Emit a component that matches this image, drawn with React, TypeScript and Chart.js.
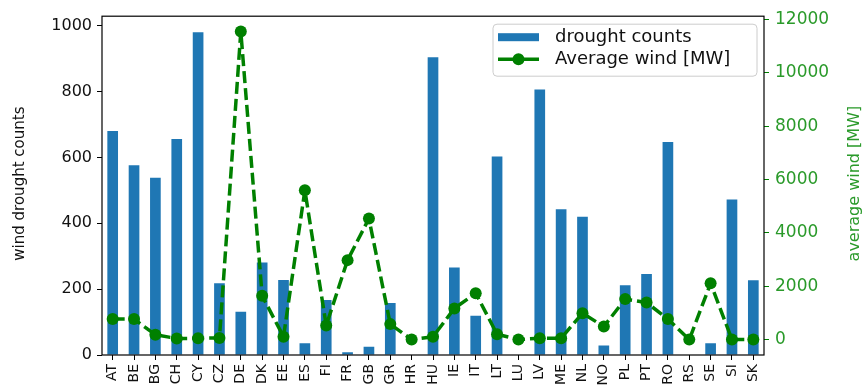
import React, { useEffect, useRef } from "react";
import { Chart, registerables } from "chart.js";

Chart.register(...registerables);

const countries = [
  "AT", "BE", "BG", "CH", "CY", "CZ", "DE", "DK", "EE", "ES", "FI", "FR", "GB", "GR", "HR", "HU",
  "IE", "IT", "LT", "LU", "LV", "ME", "NL", "NO", "PL", "PT", "RO", "RS", "SE", "SI", "SK",
];

const droughtCounts = [
  680, 576, 538, 656, 980, 218, 131, 281, 228, 36, 167, 8, 25, 158, 0, 904,
  266, 119, 603, 0, 806, 443, 420, 29, 212, 246, 647, 0, 36, 472, 227,
];

const averageWind = [
  770, 770, 180, 40, 50, 60, 11550, 1640, 110, 5600, 530, 2980, 4540, 580, 0, 110,
  1170, 1740, 200, 0, 50, 50, 990, 490, 1520, 1390, 770, 0, 2110, 0, 0,
];

const countTicks = [0, 200, 400, 600, 800, 1000];
const windTicks = [0, 2000, 4000, 6000, 8000, 10000, 12000];

const leftTitle = "wind drought counts";
const rightTitle = "average wind [MW]";

const FONT = '"DejaVu Sans", sans-serif';
const BAR_COLOR = "#1f77b4";
const LINE_COLOR = "#008000";
const RIGHT_TEXT = "#2a9a2a";

export default function App() {
  const ref = useRef<HTMLCanvasElement>(null);

  useEffect(() => {
    document.body.style.margin = "0";
    const canvas = ref.current;
    if (!canvas) return;

    const framePlugin = {
      id: "frame",
      afterDatasetsDraw(chart: any) {
        const { ctx, chartArea: a } = chart;
        ctx.save();
        ctx.strokeStyle = "#000";
        ctx.lineWidth = 1.2;
        ctx.strokeRect(a.left, a.top, a.right - a.left, a.bottom - a.top);
        ctx.restore();
      },
    };

    const titlesPlugin = {
      id: "axisTitles",
      afterDraw(chart: any) {
        const { ctx, chartArea: a } = chart;
        const cy = (a.top + a.bottom) / 2 - 2;
        ctx.save();
        ctx.textAlign = "center";
        ctx.textBaseline = "middle";
        ctx.font = `15px ${FONT}`;
        ctx.fillStyle = "#111";
        ctx.translate(20, cy);
        ctx.rotate(-Math.PI / 2);
        ctx.fillText(leftTitle, 0, 0);
        ctx.restore();

        ctx.save();
        ctx.textAlign = "center";
        ctx.textBaseline = "middle";
        ctx.font = `16px ${FONT}`;
        ctx.fillStyle = RIGHT_TEXT;
        ctx.translate(855, cy);
        ctx.rotate(-Math.PI / 2);
        ctx.fillText(rightTitle, 0, 0);
        ctx.restore();
      },
    };

    const legendPlugin = {
      id: "boxLegend",
      afterDraw(chart: any) {
        const { ctx, chartArea: a } = chart;
        const w = 264;
        const h = 52;
        const x0 = a.right - 7 - w;
        const y0 = a.top + 8;
        ctx.save();
        const r = 4;
        ctx.beginPath();
        ctx.moveTo(x0 + r, y0);
        ctx.lineTo(x0 + w - r, y0);
        ctx.quadraticCurveTo(x0 + w, y0, x0 + w, y0 + r);
        ctx.lineTo(x0 + w, y0 + h - r);
        ctx.quadraticCurveTo(x0 + w, y0 + h, x0 + w - r, y0 + h);
        ctx.lineTo(x0 + r, y0 + h);
        ctx.quadraticCurveTo(x0, y0 + h, x0, y0 + h - r);
        ctx.lineTo(x0, y0 + r);
        ctx.quadraticCurveTo(x0, y0, x0 + r, y0);
        ctx.closePath();
        ctx.fillStyle = "rgba(255,255,255,0.8)";
        ctx.fill();
        ctx.strokeStyle = "#cccccc";
        ctx.lineWidth = 1;
        ctx.stroke();

        const hx = x0 + 5;
        const hw = 41;
        ctx.fillStyle = BAR_COLOR;
        ctx.fillRect(hx, y0 + 9, hw, 8);

        const ly = y0 + 35;
        ctx.strokeStyle = LINE_COLOR;
        ctx.lineWidth = 3.5;
        ctx.beginPath();
        ctx.moveTo(hx, ly);
        ctx.lineTo(hx + hw, ly);
        ctx.stroke();
        ctx.fillStyle = LINE_COLOR;
        ctx.beginPath();
        ctx.arc(hx + hw / 2, ly, 6, 0, Math.PI * 2);
        ctx.fill();

        ctx.fillStyle = "#111";
        ctx.font = `18px ${FONT}`;
        ctx.textBaseline = "middle";
        ctx.textAlign = "left";
        ctx.fillText("drought counts", x0 + 62, y0 + 13);
        ctx.fillText("Average wind [MW]", x0 + 62, ly);
        ctx.restore();
      },
    };

    const chart = new Chart(canvas, {
      type: "bar",
      data: {
        labels: countries,
        datasets: [
          {
            type: "bar",
            label: "drought counts",
            data: droughtCounts,
            backgroundColor: BAR_COLOR,
            yAxisID: "y",
            barPercentage: 0.5,
            categoryPercentage: 1,
            order: 2,
          },
          {
            type: "line",
            label: "Average wind [MW]",
            data: averageWind,
            borderColor: LINE_COLOR,
            backgroundColor: LINE_COLOR,
            borderWidth: 3.5,
            borderDash: [12, 5],
            borderJoinStyle: "round",
            pointRadius: 6,
            pointHoverRadius: 6,
            pointBackgroundColor: LINE_COLOR,
            pointBorderColor: LINE_COLOR,
            pointBorderWidth: 0,
            yAxisID: "y1",
            order: 1,
          } as any,
        ],
      },
      options: {
        responsive: false,
        animation: false,
        events: [],
        layout: { padding: { top: 15, left: 0, right: 0, bottom: 0 } },
        plugins: {
          legend: { display: false },
          tooltip: { enabled: false },
        },
        scales: {
          x: {
            grid: {
              display: true,
              drawOnChartArea: false,
              offset: false,
              tickLength: 5,
              color: "#000",
              tickColor: "#000",
            },
            border: { display: false },
            ticks: {
              font: { family: FONT, size: 14 },
              color: "#111",
              minRotation: 90,
              maxRotation: 90,
              autoSkip: false,
              padding: 4,
            },
            afterFit: (s: any) => {
              s.height = 35;
            },
          },
          y: {
            position: "left",
            min: 0,
            max: 1029,
            afterBuildTicks: (s: any) => {
              s.ticks = countTicks.map((v) => ({ value: v }));
            },
            grid: {
              drawOnChartArea: false,
              tickLength: 5,
              color: "#000",
              tickColor: "#000",
            },
            border: { display: false },
            ticks: {
              font: { family: FONT, size: 16 },
              color: "#111",
              padding: 5,
              callback: (v: any) => String(v),
            },
            afterFit: (s: any) => {
              s.width = 102;
            },
          },
          y1: {
            position: "right",
            min: -578,
            max: 12128,
            afterBuildTicks: (s: any) => {
              s.ticks = windTicks.map((v) => ({ value: v }));
            },
            grid: {
              drawOnChartArea: false,
              tickLength: 5,
              color: LINE_COLOR,
              tickColor: LINE_COLOR,
            },
            border: { display: false },
            ticks: {
              font: { family: FONT, size: 17 },
              color: RIGHT_TEXT,
              padding: 6,
              callback: (v: any) => String(v),
            },
            afterFit: (s: any) => {
              s.width = 102;
            },
          },
        },
      },
      plugins: [framePlugin, titlesPlugin, legendPlugin],
    });

    return () => chart.destroy();
  }, []);

  return (
    <div style={{ position: "relative", width: 866, height: 390 }}>
      <canvas ref={ref} width={866} height={390} style={{ display: "block" }} />
    </div>
  );
}
